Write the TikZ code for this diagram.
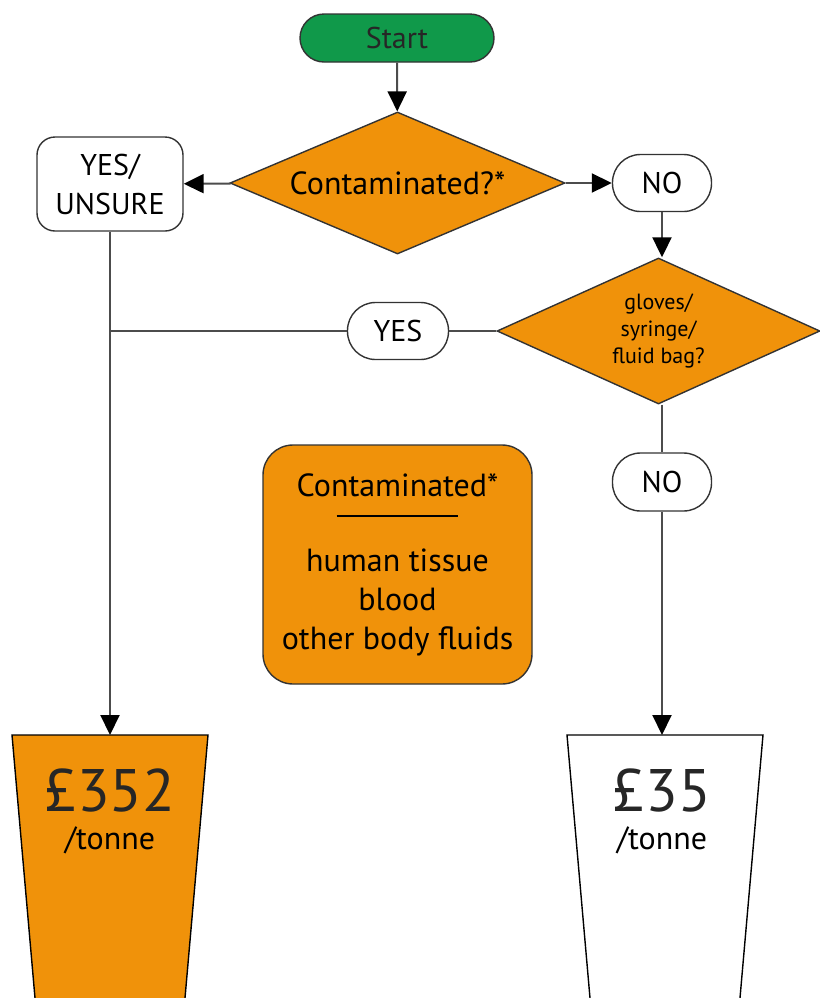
\documentclass[tikz,border=0pt]{standalone}
\usepackage{fontspec}
\setmainfont{PT Sans}
\usetikzlibrary{shapes.geometric,arrows.meta}
\definecolor{wasteorange}{HTML}{F0920A}
\definecolor{startgreen}{HTML}{10994A}
\begin{document}
\begin{tikzpicture}[x=0.5pt,y=-0.5pt,
  box/.style={draw=black!80,line width=0.7pt,rounded corners=#1,align=center,inner sep=0pt,font=\fontsize{15}{19.5}\selectfont},
  decision/.style={diamond,draw=black!80,line width=0.7pt,fill=wasteorange,align=center,inner sep=0pt,shape aspect=2.3},
  line/.style={draw=black!70,line width=1pt},
  arrow/.style={line,-{Triangle[width=9.5pt,length=10pt,black]}}]
\useasboundingbox (0,0) rectangle (820,998);
\node[box=12pt,fill=startgreen,minimum width=97pt,minimum height=24pt,text=black!85] (start) at (397,38) {Start};
\node[decision,minimum width=167.5pt,minimum height=71pt,font=\fontsize{16}{18}\selectfont] (cont) at (397.5,183) {Contaminated?*};
\node[box=9pt,minimum width=73pt,minimum height=47pt] (unsure) at (110,184) {YES/\\UNSURE};
\node[box=14pt,minimum width=49.5pt,minimum height=28.5pt] (no1) at (662,183) {NO};
\node[decision,minimum width=161.5pt,minimum height=73pt,font=\fontsize{11}{13.5}\selectfont] (items) at (658.5,331) {gloves/\\syringe/\\fluid bag?};
\node[box=14pt,minimum width=50.5pt,minimum height=28.5pt] (yes) at (398,331) {YES};
\node[box=14pt,minimum width=49.5pt,minimum height=29pt] (no2) at (662,482) {NO};
\node[box=15pt,fill=wasteorange,minimum width=134.5pt,minimum height=119.5pt,font=\fontsize{16}{19.5}\selectfont] (info) at (397.5,564.5)
  {Contaminated*\\\rule[9pt]{61pt}{1pt}\\[-1.5pt]human tissue\\blood\\other body fluids};
\fill[wasteorange] (12,735) -- (208,735) -- (185,998) -- (35,998) -- cycle;
\draw[line width=0.7pt] (35,998) -- (12,735) -- (208,735) -- (185,998);
\fill[white] (567,735) -- (763,735) -- (740,998) -- (590,998) -- cycle;
\draw[line width=0.7pt] (590,998) -- (567,735) -- (763,735) -- (740,998);
\coordinate (bin1) at (110,735);
\coordinate (bin2) at (662,735);
\node[inner sep=0pt,font=\fontsize{30}{30}\selectfont,text=black!85] (price1) at (110,790) {£352};
\node[inner sep=0pt,font=\fontsize{16}{16}\selectfont] (unit1) at (110,840) {/tonne};
\node[inner sep=0pt,font=\fontsize{30}{30}\selectfont,text=black!85] (price2) at (662,790) {£35};
\node[inner sep=0pt,font=\fontsize{16}{16}\selectfont] (unit2) at (662,840) {/tonne};
\draw[arrow] (start) -- (cont);
\draw[arrow] (cont) -- (unsure);
\draw[arrow] (cont) -- (no1);
\draw[arrow] (no1) -- (no1 |- items.north);
\draw[line] (items) -- (yes);
\draw[line] (yes) -- (yes -| unsure);
\draw[arrow] (unsure) -- (bin1);
\draw[line] (no2 |- items.south) -- (no2);
\draw[arrow] (no2) -- (bin2);
\end{tikzpicture}
\end{document}
